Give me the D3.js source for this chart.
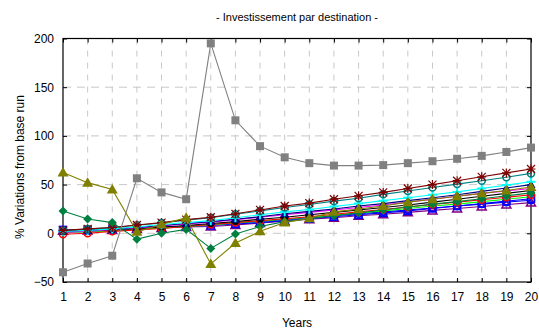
<!DOCTYPE html>
<html><head><meta charset="utf-8">
<script src="https://cdn.jsdelivr.net/npm/d3@7"></script>
<style>body{margin:0;background:#fff}svg{display:block;font-family:"Liberation Sans",Arial,sans-serif}</style>
</head><body><svg id="c" width="539" height="333"></svg>
<script>
const years = d3.range(1, 21);
const yTicks = [-50, 0, 50, 100, 150, 200];
const title = "- Investissement par destination -";
const xTitle = "Years";
const yTitle = "% Variations from base run";

const sGray   = [-40, -31, -23, 56.5, 42, 35, 195, 116, 89.5, 78, 72, 69.5, 69.5, 70, 72, 74, 76.5, 79.5, 83.5, 88];
const sOlive  = [62.5, 52, 45, 1.5, 9, 16, -31.5, -10, 2, 11, 15.5, 22, 25, 28, 32, 35, 38, 41, 44, 47.5];
const sDGreen = [23, 14.7, 11, -6, 0, 4, -15.5, -0.7, 7, 12, 15, 18, 21, 24, 27, 30, 32.5, 35.5, 38.5, 41.5];
const sDRed   = [3, 4.5, 6, 8.5, 11, 14, 16.5, 20, 24, 28, 31, 35, 38.5, 42, 46, 50, 54, 58, 62, 66];
const sTeal   = [3, 4.3, 5.8, 8.2, 10.5, 13.5, 16, 19.5, 23, 26.5, 29.5, 33, 36, 40, 43.5, 47, 50.5, 54, 57.5, 61.5];
const sCyan   = [2, 3, 4.5, 6.5, 9, 11, 13, 16, 19, 22, 24.5, 27.5, 30.5, 33.5, 36.5, 39.5, 42.5, 46, 49.5, 53];
const sNavy   = [2.5, 3, 4.5, 6, 8, 10, 12, 14.5, 17, 20, 22.5, 25, 28, 30.5, 33.5, 36.5, 39.5, 43, 46.5, 50];
const sMagenta= [1, 2, 4, 5.5, 7.5, 9.5, 11.5, 14, 16.5, 19, 21.5, 24, 26.5, 29, 32, 35, 38, 41, 43.5, 46];
const sBlack  = [1.5, 2.5, 3.5, 5, 6.5, 8, 10, 12, 14.5, 16.5, 19, 21.5, 24, 26.5, 29, 32, 35, 38, 41, 44];
const sRed    = [-1, 0, 2, 3.5, 5, 7, 9, 11, 13, 15, 17, 19.5, 22, 24.5, 27, 29.5, 32, 34.5, 37, 39.5];
const sGreen  = [0.5, 1.5, 2.5, 4, 5.5, 7, 8.5, 10.5, 12.5, 14.5, 16.5, 18.5, 21, 23, 25.5, 28, 30, 32.5, 35, 37.5];
const sBlueSq = [3.5, 3.5, 4, 5, 6, 7, 8, 9.5, 11, 13, 15, 17, 19, 21, 23, 25.5, 28, 30.5, 33, 35.5];
const sBlue   = [2, 2.5, 3.5, 4.5, 6, 7.5, 9, 10.5, 12, 14, 16, 18, 20, 22, 24, 26, 28, 30, 32, 34];
const sPurple = [2.5, 3, 3.5, 4.5, 5.5, 6.5, 7, 8.5, 10.5, 12.5, 14.5, 16, 18, 19.5, 21.5, 23.5, 25.5, 27.5, 29.5, 31.5];

const series = [
  {v: sPurple, c: "#800080", m: "triOpen"},
  {v: sBlue, c: "#0000ff", m: "circOpen"},
  {v: sBlueSq, c: "#0000ff", m: "sqOpen"},
  {v: sGreen, c: "#00ff00", m: "none"},
  {v: sRed, c: "#ff0000", m: "circOpen"},
  {v: sBlack, c: "#000000", m: "circFill"},
  {v: sMagenta, c: "#ff00ff", m: "none"},
  {v: sNavy, c: "#000080", m: "triFill"},
  {v: sCyan, c: "#00ffff", m: "plus"},
  {v: sTeal, c: "#008080", m: "circOpen"},
  {v: sDRed, c: "#800000", m: "star"},
  {v: sDGreen, c: "#008040", m: "diamond"},
  {v: sOlive, c: "#808000", m: "triBig"},
  {v: sGray, c: "#808080", m: "square"}
];

const svg = d3.select("#c");
const L = 63, R = 531, T = 38.5, B = 282;
const x = d3.scaleLinear().domain([1, 20]).range([L, R]);
const y = d3.scaleLinear().domain([-50, 200]).range([B, T]);

// grid
const g = svg.append("g");
g.selectAll(".vg").data(years.slice(1, -1)).join("line")
  .attr("x1", d => x(d)).attr("x2", d => x(d)).attr("y1", T).attr("y2", B)
  .attr("stroke", "#c8c8c8").attr("stroke-dasharray", "6,6").attr("stroke-width", 1);
g.selectAll(".hg").data(yTicks.slice(1, -1)).join("line")
  .attr("x1", L).attr("x2", R).attr("y1", d => y(d)).attr("y2", d => y(d))
  .attr("stroke", "#c8c8c8").attr("stroke-dasharray", "8,6").attr("stroke-width", 1);

// axes
const ax = d3.axisBottom(x).tickValues(years).tickSize(-4).tickPadding(10).tickFormat(d3.format("d"));
const axT = d3.axisTop(x).tickValues(years).tickSize(-4).tickFormat("");
const ay = d3.axisLeft(y).tickValues(yTicks).tickSize(-4).tickPadding(9);
const ayR = d3.axisRight(y).tickValues(yTicks).tickSize(-4).tickFormat("");
function style(sel){ sel.select(".domain").remove(); sel.selectAll("line").attr("stroke","#000"); sel.selectAll("text").attr("font-size", 12).attr("fill","#000").attr("font-family","'Liberation Sans',Arial,sans-serif"); }
svg.append("g").attr("transform", `translate(0,${B})`).call(ax).call(style);
svg.append("g").attr("transform", `translate(0,${T})`).call(axT).call(style);
svg.append("g").attr("transform", `translate(${L},0)`).call(ay).call(style);
svg.append("g").attr("transform", `translate(${R},0)`).call(ayR).call(style);
svg.append("rect").attr("x", L).attr("y", T).attr("width", R - L).attr("height", B - T)
  .attr("fill", "none").attr("stroke", "#000").attr("stroke-width", 1.2);

// lines and markers
const line = d3.line().x((d, i) => x(years[i])).y(d => y(d));
const pl = svg.append("g");
series.forEach(s => {
  pl.append("path").attr("d", line(s.v)).attr("fill", "none").attr("stroke", s.c).attr("stroke-width", 1.1);
  const mg = pl.append("g");
  s.v.forEach((v, i) => {
    const cx = x(years[i]), cy = y(v);
    const c = s.c;
    switch (s.m) {
      case "square": mg.append("rect").attr("x", cx-4).attr("y", cy-4).attr("width", 8).attr("height", 8).attr("fill", c); break;
      case "sqOpen": mg.append("rect").attr("x", cx-3.5).attr("y", cy-3.5).attr("width", 7).attr("height", 7).attr("fill", "none").attr("stroke", c).attr("stroke-width", 1.5); break;
      case "triBig": mg.append("path").attr("d", `M${cx},${cy-5.5}L${cx+5.5},${cy+4}L${cx-5.5},${cy+4}Z`).attr("fill", c); break;
      case "triFill": mg.append("path").attr("d", `M${cx},${cy-4.5}L${cx+4.5},${cy+3.5}L${cx-4.5},${cy+3.5}Z`).attr("fill", c); break;
      case "triOpen": mg.append("path").attr("d", `M${cx},${cy-4.5}L${cx+4.5},${cy+3.5}L${cx-4.5},${cy+3.5}Z`).attr("fill", "none").attr("stroke", c).attr("stroke-width", 1.5); break;
      case "diamond": mg.append("path").attr("d", `M${cx},${cy-4.5}L${cx+4.5},${cy}L${cx},${cy+4.5}L${cx-4.5},${cy}Z`).attr("fill", c); break;
      case "circOpen": mg.append("circle").attr("cx", cx).attr("cy", cy).attr("r", 3.5).attr("fill", "none").attr("stroke", c).attr("stroke-width", 1.5); break;
      case "circFill": mg.append("circle").attr("cx", cx).attr("cy", cy).attr("r", 3.5).attr("fill", c); break;
      case "plus": mg.append("path").attr("d", `M${cx-4.5},${cy}H${cx+4.5}M${cx},${cy-4.5}V${cy+4.5}`).attr("stroke", c).attr("stroke-width", 2); break;
      case "star": mg.append("path").attr("d", `M${cx-4},${cy-4}L${cx+4},${cy+4}M${cx+4},${cy-4}L${cx-4},${cy+4}M${cx-4.5},${cy}H${cx+4.5}M${cx},${cy-4.5}V${cy+4.5}`).attr("stroke", c).attr("stroke-width", 1.2); break;
    }
  });
});

// titles
svg.append("text").attr("x", 297).attr("y", 21).attr("text-anchor", "middle").attr("font-size", 11).text(title);
svg.append("text").attr("x", 297).attr("y", 327).attr("text-anchor", "middle").attr("font-size", 12).text(xTitle);
svg.append("text").attr("transform", `translate(24,167) rotate(-90)`).attr("text-anchor", "middle").attr("font-size", 12).text(yTitle);
</script></body></html>
